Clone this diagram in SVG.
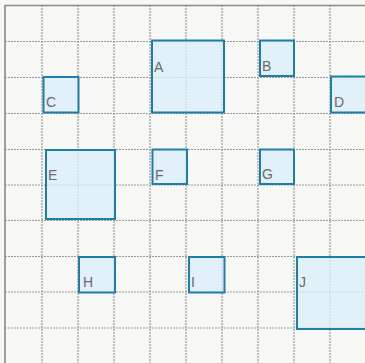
<svg xmlns="http://www.w3.org/2000/svg" width="365" height="363" viewBox="0 0 365 363">
<style>
.grid line{stroke:#9a9a9a;stroke-width:1.2;stroke-dasharray:2 1}
.box{fill:#d9eef9;fill-opacity:0.75;stroke:#1c7fa6;stroke-width:2}
.lbl{font-family:"Liberation Sans",Arial,sans-serif;font-size:14px;fill:#6a6a6a}
</style>
<rect x="0" y="0" width="365" height="363" fill="#f8f8f6"/>
<g class="grid">
<line x1="42" y1="5" x2="42" y2="363"/>
<line x1="78" y1="5" x2="78" y2="363"/>
<line x1="114" y1="5" x2="114" y2="363"/>
<line x1="150" y1="5" x2="150" y2="363"/>
<line x1="186" y1="5" x2="186" y2="363"/>
<line x1="222" y1="5" x2="222" y2="363"/>
<line x1="258" y1="5" x2="258" y2="363"/>
<line x1="294" y1="5" x2="294" y2="363"/>
<line x1="330" y1="5" x2="330" y2="363"/>
<line x1="5" y1="41.5" x2="365" y2="41.5"/>
<line x1="5" y1="77.5" x2="365" y2="77.5"/>
<line x1="5" y1="113.5" x2="365" y2="113.5"/>
<line x1="5" y1="149.5" x2="365" y2="149.5"/>
<line x1="5" y1="185" x2="365" y2="185"/>
<line x1="5" y1="220.5" x2="365" y2="220.5"/>
<line x1="5" y1="256.5" x2="365" y2="256.5"/>
<line x1="5" y1="292" x2="365" y2="292"/>
<line x1="5" y1="328" x2="365" y2="328"/>
</g>
<path d="M5,363 V5.5 H365" fill="none" stroke="#8a8a8a" stroke-width="1.6"/>
<g id="A"><rect class="box" x="152" y="40.5" width="72" height="72"/><text class="lbl" x="154" y="72">A</text></g>
<g id="B"><rect class="box" x="260" y="40.5" width="34" height="35.5"/><text class="lbl" x="262" y="71">B</text></g>
<g id="C"><rect class="box" x="43.5" y="77" width="35" height="35.5"/><text class="lbl" x="46" y="107">C</text></g>
<g id="D"><rect class="box" x="331" y="76.5" width="40" height="36"/><text class="lbl" x="334" y="106.5">D</text></g>
<g id="E"><rect class="box" x="46" y="150" width="69" height="69"/><text class="lbl" x="48" y="180">E</text></g>
<g id="F"><rect class="box" x="152.5" y="149.5" width="34.5" height="34.5"/><text class="lbl" x="155" y="180">F</text></g>
<g id="G"><rect class="box" x="260" y="149.5" width="34" height="34.5"/><text class="lbl" x="262" y="178.5">G</text></g>
<g id="H"><rect class="box" x="79" y="257" width="36" height="35.5"/><text class="lbl" x="83" y="287">H</text></g>
<g id="I"><rect class="box" x="189" y="257" width="35.5" height="35.5"/><text class="lbl" x="191" y="287">I</text></g>
<g id="J"><rect class="box" x="297" y="257" width="72" height="72"/><text class="lbl" x="299" y="287">J</text></g>
</svg>
